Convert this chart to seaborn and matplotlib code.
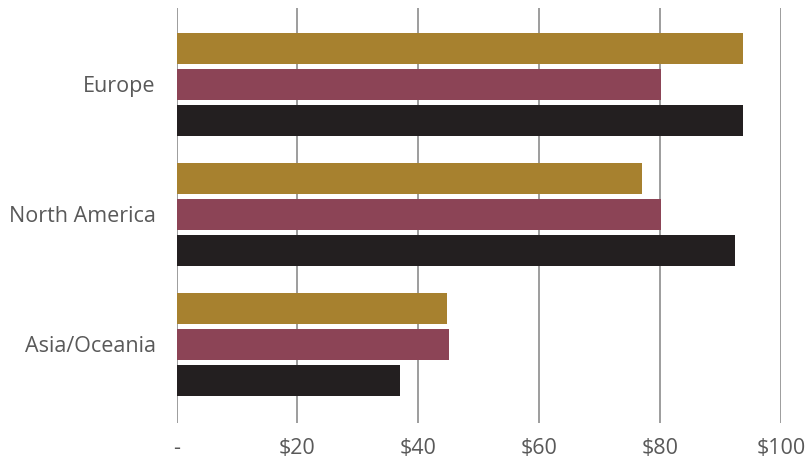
import matplotlib
matplotlib.use("Agg")
import matplotlib.pyplot as plt
import seaborn as sns
import pandas as pd

regions = ["Europe", "North America", "Asia/Oceania"]
series_names = ["Series 1", "Series 2", "Series 3"]
series1 = [93.7, 77.0, 44.8]
series2 = [80.2, 80.2, 45.0]
series3 = [93.7, 92.4, 36.9]
colors = ["#A7812F", "#8C4456", "#231F20"]
xticks = [0, 20, 40, 60, 80, 100]
xtick_labels = ["-", "$20", "$40", "$60", "$80", "$100"]

rows = []
for name, vals in zip(series_names, [series1, series2, series3]):
    for r, v in zip(regions, vals):
        rows.append({"region": r, "series": name, "value": v})
df = pd.DataFrame(rows)

sns.set_theme(style="white")
plt.rcParams["font.family"] = ["Open Sans", "DejaVu Sans"]

fig = plt.figure(figsize=(8.06, 4.65), dpi=100)
ax = fig.add_axes([0.219, 0.0903, 0.969 - 0.219, 0.9828 - 0.0903])

sns.barplot(data=df, y="region", x="value", hue="series", order=regions,
            hue_order=series_names, palette=colors, orient="h",
            width=0.831, gap=0.14, saturation=1, legend=False, ax=ax,
            errorbar=None, linewidth=0, edgecolor="none")

ax.set_xlim(0, 100)
ax.set_ylim(2.604, -0.588)
ax.set_xticks(xticks)
ax.set_xticklabels(xtick_labels)
ax.set_xlabel("")
ax.set_ylabel("")
ax.xaxis.grid(True, color="#8C8C8C", linewidth=1.2)
ax.yaxis.grid(False)
ax.set_axisbelow(True)
for s in ax.spines.values():
    s.set_visible(False)
ax.tick_params(axis="x", length=0, pad=11, labelsize=15.5, labelcolor="#595959")
ax.tick_params(axis="y", length=0, pad=15, labelsize=15.5, labelcolor="#595959")

fig.savefig("out.png", dpi=100)
